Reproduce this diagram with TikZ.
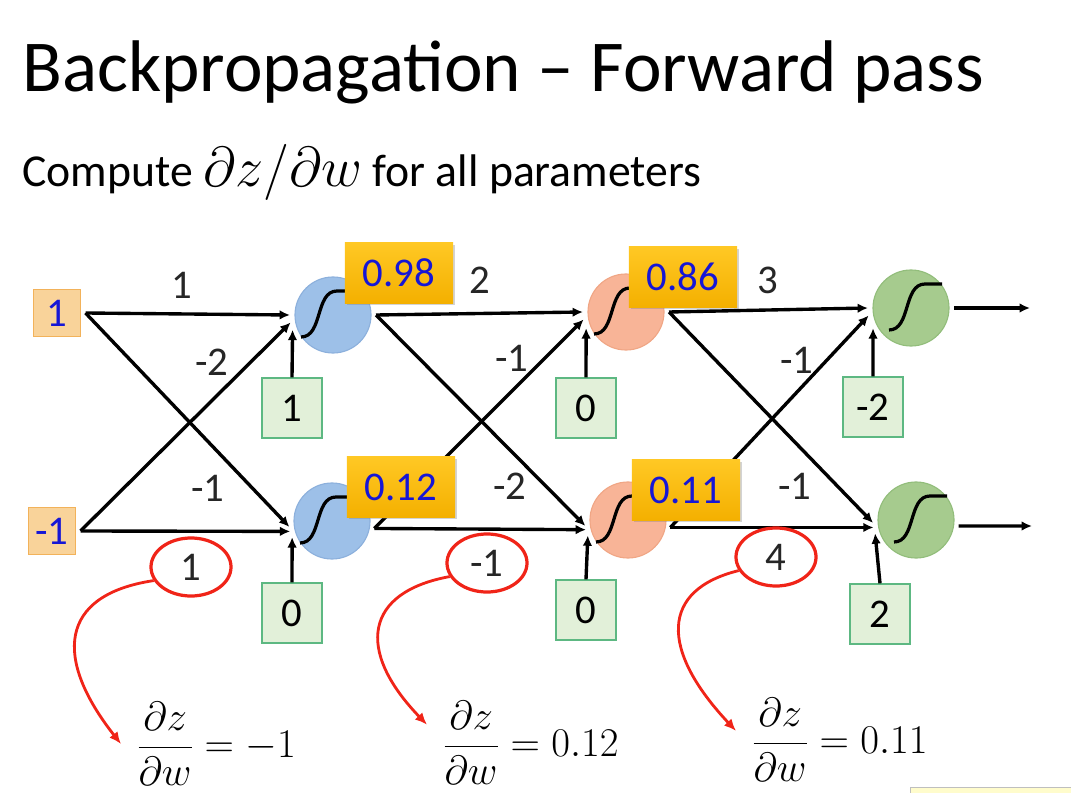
\RequirePackage{fix-cm}
\documentclass[tikz,border=0pt]{standalone}
\usepackage{fontspec}
\setmainfont{Carlito}
\usepackage{amsmath}
\usetikzlibrary{shapes.geometric,arrows.meta,shadows}

\definecolor{inputfill}{HTML}{F9D39A}
\definecolor{inputdraw}{HTML}{F2B25A}
\definecolor{bluefill}{HTML}{9DC0E8}
\definecolor{bluedraw}{HTML}{8CB0DC}
\definecolor{orangefill}{HTML}{F8B497}
\definecolor{orangedraw}{HTML}{F0A685}
\definecolor{greenfill}{HTML}{A6CB8E}
\definecolor{greendraw}{HTML}{92BD7B}
\definecolor{biasfill}{HTML}{E2F0D9}
\definecolor{biasdraw}{HTML}{5DB882}
\definecolor{goldtop}{HTML}{FFC824}
\definecolor{goldbot}{HTML}{F4B000}
\definecolor{numblue}{HTML}{1616D6}
\definecolor{hitred}{HTML}{F02418}

\tikzset{
  sig/.pic={\draw[line width=2.3pt] (-22,22) .. controls (0,22) and (-8,-24) .. (14,-24) -- (31,-24);}
}

\begin{document}
\begin{tikzpicture}[x=0.025cm,y=-0.025cm,
    every node/.style={font=\fontsize{29}{34}\selectfont},
    inbox/.style={draw=inputdraw,fill=inputfill,line width=0.8pt,minimum size=1.175cm,inner sep=0pt,outer sep=0.125cm,text=numblue},
    neuron/.style={circle,line width=0.8pt,minimum size=1.9cm,inner sep=0pt,outer sep=0.125cm},
    biasbox/.style={draw=biasdraw,fill=biasfill,line width=0.9pt,minimum size=1.5cm,inner sep=0pt},
    valbox/.style={top color=goldtop,bottom color=goldbot,minimum width=2.7cm,minimum height=1.5cm,inner sep=0pt,text=numblue,
      drop shadow={opacity=0.35,shadow xshift=1.2pt,shadow yshift=-1.2pt}},
    wlabel/.style={text=black!85,inner sep=0pt},
    hit/.style={ellipse,draw=hitred,line width=2.3pt,minimum width=2cm,minimum height=1.45cm,inner sep=0pt,text=black!85},
    conn/.style={line width=2.4pt,-{Latex[length=2.6mm,width=2.4mm]}},
    redarrow/.style={hitred,line width=2pt,-{Latex[length=3mm,width=2.6mm]}},
    deriv/.style={font=\fontsize{29}{35}\selectfont,inner sep=0pt,outer xsep=4mm,anchor=west}
  ]
  \useasboundingbox (0,0) rectangle (1071,793);

  % titles
  \node[anchor=base west,inner sep=0pt,font=\fontsize{52}{60}\selectfont] (title) at (22,92) {Backpropagation – Forward pass};
  \node[anchor=base west,inner sep=0pt,font=\fontsize{32.5}{38}\selectfont] (sub) at (22,187) {Compute {\fontsize{40}{44}\selectfont$\partial z/\partial w$} for all parameters};

  % inputs
  \node[inbox] (in1) at (57,313) {1};
  \node[inbox] (in2) at (52,531) {-1};

  % neurons
  \node[neuron,fill=bluefill,draw=bluedraw] (h11) at (333,315) {};
  \node[neuron,fill=bluefill,draw=bluedraw] (h12) at (332,521) {};
  \node[neuron,fill=orangefill,draw=orangedraw] (h21) at (626,312) {};
  \node[neuron,fill=orangefill,draw=orangedraw] (h22) at (628,520) {};
  \node[neuron,fill=greenfill,draw=greendraw] (o1) at (911,308) {};
  \node[neuron,fill=greenfill,draw=greendraw] (o2) at (916,520) {};
  \pic at ([xshift=-2.5mm]h11.center) {sig};
  \pic at ([xshift=-2.5mm]h12.center) {sig};
  \pic at ([xshift=-2.5mm]h21.center) {sig};
  \pic at ([xshift=-2.5mm]h22.center) {sig};
  \pic at (o1.center) {sig};
  \pic at (o2.center) {sig};

  % biases
  \node[biasbox] (b11) at (292,408) {1};
  \node[biasbox] (b12) at (292,613) {0};
  \node[biasbox] (b21) at (586,408) {0};
  \node[biasbox] (b22) at (586,610) {0};
  \node[biasbox] (b31) at (873,407) {-2};
  \node[biasbox] (b32) at (880,614) {2};

  \coordinate (y1) at (1030,308);
  \coordinate (y2) at (1032,526);

  % connections
  \draw[conn] (in1.east) -- (h11.west);
  \draw[conn] (in1.east) -- (h12.188);
  \draw[conn] (in2.east) -- (h11.190);
  \draw[conn] (in2.east) -- (h12.194);
  \draw[conn] (b11.north) -- (h11.200);
  \draw[conn] (b12.north) -- (h12.202);

  \draw[conn] (h11.east) -- (h21.west);
  \draw[conn] (h11.east) -- (h22.188);
  \draw[conn] (h12.-10) -- (h21.190);
  \draw[conn] (h12.-10) -- (h22.193);
  \draw[conn] (b21.north) -- (h21.202);
  \draw[conn] (b22.north) -- (h22.201);

  \draw[conn] (h21.east) -- (o1.west);
  \draw[conn] (h21.east) -- (o2.184);
  \draw[conn] (h22.-10) -- (o1.190);
  \draw[conn] (h22.-10) -- (o2.190);
  \draw[conn] (b31.north) -- (o1.208);
  \draw[conn] (b32.north) -- (o2.198);

  \draw[conn] (o1.east) -- (y1);
  \draw[conn] (o2.-8) -- (y2);

  % activations
  \node[valbox] (v11) at (399,273) {0.98};
  \node[valbox] (v12) at (401,487) {0.12};
  \node[valbox] (v21) at (683,277) {0.86};
  \node[valbox] (v22) at (686,490) {0.11};

  % weights
  \node[wlabel] (w1) at (182,285) {1};
  \node[wlabel] (w2) at (212,362) {-2};
  \node[wlabel] (w3) at (208,488) {-1};
  \node[wlabel] (w5) at (480,280) {2};
  \node[wlabel] (w6) at (512,358) {-1};
  \node[wlabel] (w7) at (510,486) {-2};
  \node[wlabel] (w9) at (768,280) {3};
  \node[wlabel] (w10) at (797,360) {-1};
  \node[wlabel] (w11) at (795,486) {-1};
  \node[hit] (g1) at (191,567) {1};
  \node[hit] (g2) at (487,563) {-1};
  \node[hit] (g3) at (776,557) {4};

  % gradients
  \node[deriv] (d1) at (121,744) {$\dfrac{\partial z}{\partial w}=-1$};
  \node[deriv] (d2) at (427,743) {$\dfrac{\partial z}{\partial w}=0.12$};
  \node[deriv] (d3) at (736,740) {$\dfrac{\partial z}{\partial w}=0.11$};
  \draw[redarrow] (g1.200) .. controls (58,595) and (54,659) .. (d1.west);
  \draw[redarrow] (g2.200) .. controls (365,592) and (355,650) .. (d2.170);
  \draw[redarrow] (g3.200) .. controls (660,590) and (660,650) .. (d3.175);

  \draw[draw=black!25,fill=yellow!20] (910,787) rectangle (1090,810);
\end{tikzpicture}
\end{document}
